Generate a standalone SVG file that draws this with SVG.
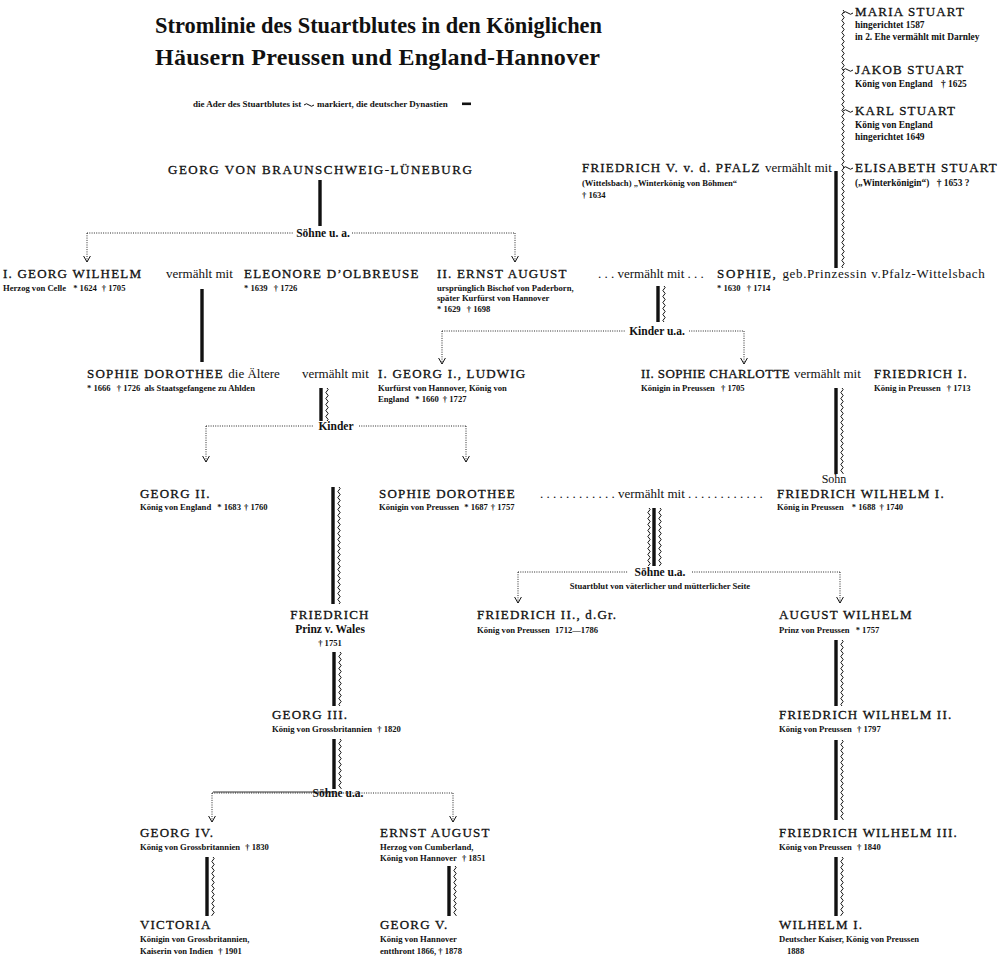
<svg xmlns="http://www.w3.org/2000/svg" width="1000" height="969" viewBox="0 0 1000 969">
<style>
text{font-family:"Liberation Serif","DejaVu Serif",serif;fill:#111}
.t{font-size:24px;font-weight:bold}
.n{font-size:13px;letter-spacing:1.2px;stroke:#111;stroke-width:0.3px}
.m{font-size:13px;letter-spacing:0.2px;stroke:none}
.s{font-size:8.6px;font-weight:bold}
.s2{font-size:9.4px;font-weight:bold}
.v{font-size:13px;stroke:none}
.l{font-size:11.5px;font-weight:bold}
.lg{font-size:9px;font-weight:bold}
.c{text-anchor:middle}
.thick{stroke:#111;stroke-width:3.4;fill:none}
.dot{stroke:#111;stroke-width:0.9;stroke-dasharray:1 1.3;fill:none}
.arr{stroke:#111;stroke-width:0.9;stroke-dasharray:1 1.3;fill:none;marker-end:url(#ah)}
.tl{stroke:#111;stroke-width:1;fill:none}
</style>
<defs>
<pattern id="wv" width="4" height="6" patternUnits="userSpaceOnUse"><path d="M2,0 Q4.3,1.5 2,3 Q-0.3,4.5 2,6" fill="none" stroke="#111" stroke-width="1"/></pattern>
<marker id="ah" markerWidth="10" markerHeight="10" refX="0" refY="0" viewBox="-7 -5 8 10" orient="auto" markerUnits="userSpaceOnUse"><path d="M-6,-3.4 L0,0 L-6,3.4" fill="none" stroke="#111" stroke-width="1"/></marker>
</defs>
<rect width="1000" height="969" fill="#fff"/>

<g id="title">
<text class="t" x="155" y="33" textLength="447" lengthAdjust="spacingAndGlyphs">Stromlinie des Stuartblutes in den Königlichen</text>
<text class="t" x="155" y="65" textLength="445" lengthAdjust="spacing">Häusern Preussen und England-Hannover</text>
<text class="lg" x="193" y="107">die Ader des Stuartblutes ist</text>
<path class="tl" d="M304,105 q2.5,-2.5 5,0 t5,0" stroke-width="1.3"/>
<text class="lg" x="317" y="107">markiert, die deutscher Dynastien</text>
<rect x="462" y="102.5" width="9" height="2.6" fill="#111"/>
</g>

<g id="connectors">
<rect width="4" height="258" transform="translate(841,10)" fill="url(#wv)"/>
<path class="tl" d="M843,13 q2.5,-2.5 5,0 t5,0"/>
<path class="tl" d="M843,70 q2.5,-2.5 5,0 t5,0"/>
<path class="tl" d="M843,111 q2.5,-2.5 5,0 t5,0"/>
<path class="tl" d="M843,168 q2.5,-2.5 5,0 t5,0"/>
<line class="thick" x1="836" y1="171" x2="836" y2="268"/>
<line class="thick" x1="320" y1="180" x2="320" y2="226"/>
<line class="dot" x1="87" y1="233" x2="294" y2="233"/>
<line class="dot" x1="352" y1="233" x2="515" y2="233"/>
<line class="arr" x1="87" y1="233" x2="87" y2="262"/>
<line class="arr" x1="515" y1="233" x2="515" y2="262"/>
<line class="thick" x1="202" y1="289" x2="202" y2="362"/>
<line class="thick" x1="658" y1="286" x2="658" y2="322"/>
<rect width="4" height="36" transform="translate(662,286)" fill="url(#wv)"/>
<line class="dot" x1="442" y1="331" x2="626" y2="331"/>
<line class="dot" x1="689" y1="331" x2="744" y2="331"/>
<line class="arr" x1="442" y1="331" x2="442" y2="364"/>
<line class="arr" x1="744" y1="331" x2="744" y2="364"/>
<line class="thick" x1="321" y1="388" x2="321" y2="421"/>
<rect width="4" height="33" transform="translate(325,388)" fill="url(#wv)"/>
<line class="dot" x1="206" y1="426" x2="314" y2="426"/>
<line class="dot" x1="359" y1="426" x2="466" y2="426"/>
<line class="arr" x1="206" y1="426" x2="206" y2="462"/>
<line class="arr" x1="466" y1="426" x2="466" y2="462"/>
<line class="thick" x1="836" y1="388" x2="836" y2="474"/>
<rect width="4" height="86" transform="translate(840,388)" fill="url(#wv)"/>
<line class="thick" x1="333" y1="487" x2="333" y2="604"/>
<rect width="4" height="117" transform="translate(337,487)" fill="url(#wv)"/>
<rect width="4" height="58" transform="translate(647,508)" fill="url(#wv)"/>
<line class="thick" x1="654" y1="508" x2="654" y2="566"/>
<rect width="4" height="58" transform="translate(658,508)" fill="url(#wv)"/>
<line class="dot" x1="518" y1="572" x2="628" y2="572"/>
<line class="dot" x1="692" y1="572" x2="840" y2="572"/>
<line class="arr" x1="518" y1="572" x2="518" y2="603"/>
<line class="arr" x1="840" y1="572" x2="840" y2="603"/>
<line class="thick" x1="334" y1="652" x2="334" y2="706"/>
<rect width="4" height="54" transform="translate(338,652)" fill="url(#wv)"/>
<line class="thick" x1="334" y1="739" x2="334" y2="789"/>
<rect width="4" height="50" transform="translate(338,739)" fill="url(#wv)"/>
<line x1="213" y1="792" x2="333" y2="792" stroke="#999" stroke-width="2.2"/>
<line class="dot" x1="212" y1="793" x2="453" y2="793"/>
<line class="arr" x1="212" y1="793" x2="212" y2="822"/>
<line class="arr" x1="453" y1="793" x2="453" y2="822"/>
<line class="thick" x1="207" y1="857" x2="207" y2="916"/>
<rect width="4" height="59" transform="translate(211,857)" fill="url(#wv)"/>
<line class="thick" x1="449" y1="866" x2="449" y2="916"/>
<rect width="4" height="50" transform="translate(453,866)" fill="url(#wv)"/>
<line class="thick" x1="836" y1="640" x2="836" y2="706"/>
<rect width="4" height="66" transform="translate(840,640)" fill="url(#wv)"/>
<line class="thick" x1="836" y1="740" x2="836" y2="820"/>
<rect width="4" height="80" transform="translate(840,740)" fill="url(#wv)"/>
<line class="thick" x1="836" y1="857" x2="836" y2="916"/>
<rect width="4" height="59" transform="translate(840,857)" fill="url(#wv)"/>
</g>

<g id="labels">
<text class="l c" x="323" y="237">Söhne u. a.</text>
<text class="l c" x="657" y="335">Kinder u.a.</text>
<text class="l c" x="336" y="430">Kinder</text>
<text class="l c" x="834" y="483" style="font-weight:normal;font-size:12px">Sohn</text>
<text class="l c" x="660" y="576">Söhne u.a.</text>
<text class="s c" x="660" y="589">Stuartblut von väterlicher und mütterlicher Seite</text>
<text class="l c" x="338" y="797">Söhne u.a.</text>
</g>

<g id="maria-stuart"><text class="n" x="855" y="16">MARIA STUART</text><text class="s2" x="855" y="28">hingerichtet 1587</text><text class="s2" x="855" y="40">in 2. Ehe vermählt mit Darnley</text></g>
<g id="jakob-stuart"><text class="n" x="855" y="74">JAKOB STUART</text><text class="s2" x="855" y="87">König von England <tspan dx="6">† 1625</tspan></text></g>
<g id="karl-stuart"><text class="n" x="855" y="115">KARL STUART</text><text class="s2" x="855" y="128">König von England</text><text class="s2" x="855" y="140">hingerichtet 1649</text></g>
<g id="elisabeth-stuart"><text class="n" x="855" y="172">ELISABETH STUART</text><text class="s2" x="855" y="186">(„Winterkönigin“) <tspan dx="5">† 1653 ?</tspan></text></g>
<g id="friedrich-v"><text class="n" x="582" y="172">FRIEDRICH V. v. d. PFALZ <tspan class="v" style="letter-spacing:0">vermählt mit</tspan></text><text class="s" x="582" y="186">(Wittelsbach) „Winterkönig von Böhmen“</text><text class="s" x="582" y="198">† 1634</text></g>
<g id="georg-bl"><text class="n" x="168" y="174" textLength="305" lengthAdjust="spacing">GEORG VON BRAUNSCHWEIG-LÜNEBURG</text></g>

<g id="georg-wilhelm"><text class="n" x="3" y="278">I. GEORG WILHELM</text><text class="s" x="3" y="291">Herzog von Celle <tspan dx="5">* 1624</tspan><tspan dx="5">† 1705</tspan></text></g>
<text class="v" x="166" y="278">vermählt mit</text>
<g id="eleonore"><text class="n" x="244" y="278">ELEONORE D’OLBREUSE</text><text class="s" x="244" y="291">* 1639 <tspan dx="4">† 1726</tspan></text></g>
<g id="ernst-august-1"><text class="n" x="437" y="278">II. ERNST AUGUST</text><text class="s" x="437" y="291">ursprünglich Bischof von Paderborn,</text><text class="s" x="437" y="301">später Kurfürst von Hannover</text><text class="s" x="437" y="312">* 1629 <tspan dx="4">† 1698</tspan></text></g>
<text class="v" x="598" y="278">. . . vermählt mit . . .</text>
<g id="sophie-pfalz"><text class="n" x="717" y="278" textLength="268" lengthAdjust="spacing">SOPHIE, <tspan class="m">geb.Prinzessin v.Pfalz-Wittelsbach</tspan></text><text class="s" x="717" y="291">* 1630 <tspan dx="4">† 1714</tspan></text></g>

<g id="sophie-dorothee-1"><text class="n" x="87" y="378">SOPHIE DOROTHEE <tspan class="v" style="letter-spacing:0">die Ältere</tspan></text><text class="s" x="87" y="391">* 1666 <tspan dx="4">† 1726</tspan><tspan dx="4">als Staatsgefangene zu Ahlden</tspan></text></g>
<text class="v" x="302" y="378">vermählt mit</text>
<g id="georg-i"><text class="n" x="378" y="378">I. GEORG I., LUDWIG</text><text class="s" x="378" y="391">Kurfürst von Hannover, König von</text><text class="s" x="378" y="402">England <tspan dx="4">* 1660</tspan><tspan dx="4">† 1727</tspan></text></g>
<g id="sophie-charlotte"><text class="n" x="641" y="378" style="letter-spacing:0.4px">II. SOPHIE CHARLOTTE</text><text class="s" x="641" y="391">Königin in Preussen <tspan dx="4">† 1705</tspan></text></g>
<text class="v" x="794" y="378">vermählt mit</text>
<g id="friedrich-i"><text class="n" x="874" y="378">FRIEDRICH I.</text><text class="s" x="874" y="391">König in Preussen <tspan dx="4">† 1713</tspan></text></g>

<g id="georg-ii"><text class="n" x="140" y="498">GEORG II.</text><text class="s" x="140" y="510">König von England <tspan dx="4">* 1683</tspan><tspan dx="3">† 1760</tspan></text></g>
<g id="sophie-dorothee-2"><text class="n" x="379" y="498">SOPHIE DOROTHEE</text><text class="s" x="379" y="510">Königin von Preussen <tspan dx="3">* 1687</tspan><tspan dx="3">† 1757</tspan></text></g>
<text class="v" x="540" y="498">. . . . . . . . . . . . vermählt mit . . . . . . . . . . . .</text>
<g id="friedrich-wilhelm-i"><text class="n" x="777" y="498">FRIEDRICH WILHELM I.</text><text class="s" x="777" y="510">König in Preussen <tspan dx="6">* 1688</tspan><tspan dx="4">† 1740</tspan></text></g>

<g id="friedrich-wales"><text class="n c" x="330" y="619">FRIEDRICH</text><text class="v c" x="330" y="633" style="font-weight:bold;font-size:11.5px">Prinz v. Wales</text><text class="s c" x="330" y="646">† 1751</text></g>
<g id="friedrich-ii"><text class="n" x="477" y="619">FRIEDRICH II., d.Gr.</text><text class="s" x="477" y="633">König von Preussen <tspan dx="3">1712—1786</tspan></text></g>
<g id="august-wilhelm"><text class="n" x="779" y="619">AUGUST WILHELM</text><text class="s" x="779" y="633">Prinz von Preussen <tspan dx="4">* 1757</tspan></text></g>

<g id="georg-iii"><text class="n" x="272" y="719">GEORG III.</text><text class="s" x="272" y="732">König von Grossbritannien <tspan dx="3">† 1820</tspan></text></g>
<g id="friedrich-wilhelm-ii"><text class="n" x="779" y="719">FRIEDRICH WILHELM II.</text><text class="s" x="779" y="732">König von Preussen <tspan dx="3">† 1797</tspan></text></g>

<g id="georg-iv"><text class="n" x="140" y="837">GEORG IV.</text><text class="s" x="140" y="850">König von Grossbritannien <tspan dx="3">† 1830</tspan></text></g>
<g id="ernst-august-2"><text class="n" x="380" y="837">ERNST AUGUST</text><text class="s" x="380" y="850">Herzog von Cumberland,</text><text class="s" x="380" y="861">König von Hannover <tspan dx="3">† 1851</tspan></text></g>
<g id="friedrich-wilhelm-iii"><text class="n" x="779" y="837">FRIEDRICH WILHELM III.</text><text class="s" x="779" y="850">König von Preussen <tspan dx="3">† 1840</tspan></text></g>

<g id="victoria"><text class="n" x="140" y="929">VICTORIA</text><text class="s" x="140" y="942">Königin von Grossbritannien,</text><text class="s" x="140" y="954">Kaiserin von Indien <tspan dx="3">† 1901</tspan></text></g>
<g id="georg-v"><text class="n" x="380" y="929">GEORG V.</text><text class="s" x="380" y="942">König von Hannover</text><text class="s" x="380" y="954">entthront 1866, † 1878</text></g>
<g id="wilhelm-i"><text class="n" x="779" y="929">WILHELM I.</text><text class="s" x="779" y="942">Deutscher Kaiser, König von Preussen</text><text class="s" x="787" y="954">1888</text></g>
</svg>
